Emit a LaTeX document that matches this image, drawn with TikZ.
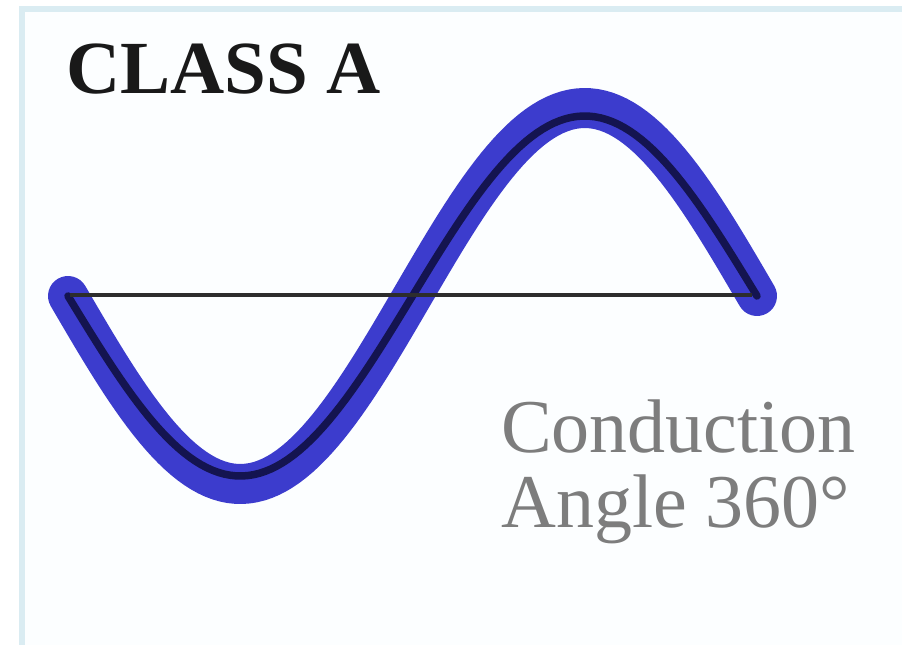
\documentclass[tikz,border=0pt]{standalone}
\usepackage{fontspec}
\setmainfont{Liberation Serif}
\definecolor{framecol}{RGB}{218,236,242}
\definecolor{innercol}{RGB}{252,254,255}
\definecolor{wave}{RGB}{60,60,205}
\definecolor{waveline}{RGB}{20,20,80}
\definecolor{axiscol}{RGB}{45,45,45}
\definecolor{labelgray}{RGB}{125,125,125}
\tikzset{
  wavestroke/.style={draw=wave, line width=40pt, line cap=round, line join=round},
  innerstroke/.style={draw=waveline, line width=7.5pt, line cap=round, line join=round},
  axisline/.style={draw=axiscol, line width=4pt},
  titletext/.style={font=\fontsize{75}{80}\selectfont\bfseries, text=black!90, inner sep=0pt, anchor=base west},
  notetext/.style={font=\fontsize{76}{75}\selectfont, text=labelgray, inner sep=0pt, anchor=base west, align=left}
}
\begin{document}
\begin{tikzpicture}[x=1pt,y=-1pt]
\useasboundingbox (0,0) rectangle (902,645);
\fill[white] (0,0) rectangle (902,645);
\fill[framecol] (19,6) rectangle (902,645);
\fill[innercol] (25,12) rectangle (902,645);
% axis
\coordinate (axL) at (70,295);
\coordinate (axR) at (752,295);
% waveform
\draw[wavestroke] plot[domain=0:360, samples=120] ({68+1.91389*\x},{296+188*sin(\x)});
\draw[innerstroke] plot[domain=0:360, samples=120] ({68+1.91389*\x},{296+180*sin(\x)});
\draw[axisline] (axL) -- (axR);
% labels
\node[titletext] (title) at (66,93) {CLASS A};
\node[notetext] (cond) at (501,452) {Conduction};
\node[notetext] (angle) at (501,527) {Angle 360°};
\end{tikzpicture}
\end{document}
